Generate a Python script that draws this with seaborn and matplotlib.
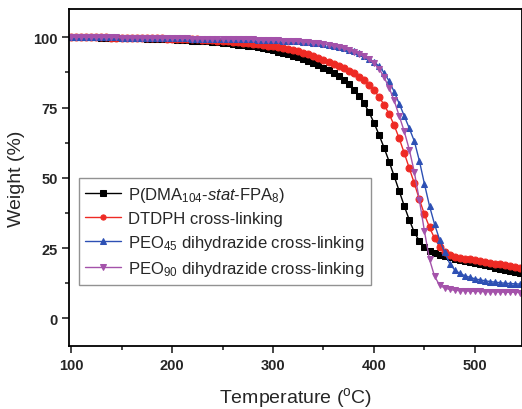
import numpy as np
import pandas as pd
import seaborn as sns
import matplotlib.pyplot as plt
from matplotlib.ticker import MultipleLocator

# temperature grid (°C), one reading every 5 degrees
temperature = [100, 105, 110, 115, 120, 125, 130, 135, 140, 145,
               150, 155, 160, 165, 170, 175, 180, 185, 190, 195,
               200, 205, 210, 215, 220, 225, 230, 235, 240, 245,
               250, 255, 260, 265, 270, 275, 280, 285, 290, 295,
               300, 305, 310, 315, 320, 325, 330, 335, 340, 345,
               350, 355, 360, 365, 370, 375, 380, 385, 390, 395,
               400, 405, 410, 415, 420, 425, 430, 435, 440, 445,
               450, 455, 460, 465, 470, 475, 480, 485, 490, 495,
               500, 505, 510, 515, 520, 525, 530, 535, 540, 545,
               550]

# weight (%)
w_copolymer = [100.0, 100.0, 99.9, 99.9, 99.9, 99.9, 99.8, 99.8, 99.8, 99.8,
               99.7, 99.7, 99.7, 99.6, 99.6, 99.5, 99.5, 99.4, 99.4, 99.3,
               99.2, 99.1, 99.0, 98.9, 98.8, 98.7, 98.6, 98.5, 98.3, 98.2,
               98.0, 97.8, 97.6, 97.4, 97.2, 97.0, 96.7, 96.4, 96.1, 95.7,
               95.3, 94.9, 94.4, 93.9, 93.4, 92.8, 92.2, 91.5, 90.8, 90.0,
               89.2, 88.3, 87.3, 86.1, 84.8, 83.2, 81.4, 79.2, 76.6, 73.4,
               69.6, 65.3, 60.7, 55.8, 50.6, 45.3, 40.0, 35.0, 30.6, 27.5,
               25.3, 24.0, 23.2, 22.6, 22.1, 21.7, 21.3, 20.9, 20.5, 20.1,
               19.7, 19.3, 18.9, 18.5, 18.1, 17.7, 17.3, 16.9, 16.5, 16.1,
               15.7]

w_dtdph = [100.0, 100.0, 100.0, 99.9, 99.9, 99.9, 99.9, 99.9, 99.8, 99.8,
           99.8, 99.8, 99.8, 99.7, 99.7, 99.7, 99.6, 99.6, 99.6, 99.5,
           99.5, 99.4, 99.4, 99.3, 99.3, 99.2, 99.1, 99.0, 98.9, 98.8,
           98.7, 98.6, 98.4, 98.3, 98.1, 97.9, 97.7, 97.5, 97.3, 97.0,
           96.8, 96.5, 96.2, 95.8, 95.4, 95.0, 94.5, 94.0, 93.4, 92.7,
           92.0, 91.3, 90.6, 89.8, 89.0, 88.1, 87.1, 86.0, 84.7, 83.1,
           81.2, 78.8, 76.0, 72.7, 68.7, 64.0, 58.8, 53.4, 48.0, 42.3,
           37.0, 32.4, 28.5, 25.5, 23.6, 22.6, 22.0, 21.6, 21.3, 21.0,
           20.7, 20.4, 20.1, 19.8, 19.5, 19.2, 18.9, 18.6, 18.3, 18.0,
           17.7]

w_peo45 = [100.0, 100.0, 100.0, 100.0, 99.9, 99.9, 99.9, 99.9, 99.9, 99.9,
           99.8, 99.8, 99.8, 99.8, 99.8, 99.7, 99.7, 99.7, 99.7, 99.7,
           99.6, 99.6, 99.6, 99.6, 99.5, 99.5, 99.5, 99.5, 99.4, 99.4,
           99.4, 99.4, 99.3, 99.3, 99.3, 99.2, 99.2, 99.1, 99.1, 99.0,
           99.0, 98.9, 98.8, 98.7, 98.6, 98.5, 98.4, 98.3, 98.1, 97.9,
           97.6, 97.3, 96.9, 96.5, 96.1, 95.6, 95.0, 94.3, 93.4, 92.4,
           91.2, 89.6, 87.4, 84.4, 80.6, 76.4, 72.0, 67.6, 63.0, 56.0,
           47.8, 40.0, 33.5, 28.0, 23.5, 19.5, 17.2, 16.0, 15.2, 14.6,
           14.1, 13.7, 13.4, 13.1, 12.9, 12.7, 12.5, 12.4, 12.3, 12.2,
           12.1]

w_peo90 = [100.0, 100.0, 100.0, 100.0, 99.9, 99.9, 99.9, 99.9, 99.9, 99.9,
           99.8, 99.8, 99.8, 99.8, 99.8, 99.7, 99.7, 99.7, 99.7, 99.7,
           99.6, 99.6, 99.6, 99.6, 99.5, 99.5, 99.5, 99.5, 99.4, 99.4,
           99.4, 99.4, 99.3, 99.3, 99.3, 99.2, 99.2, 99.1, 99.1, 99.0,
           99.0, 98.9, 98.8, 98.7, 98.6, 98.5, 98.4, 98.3, 98.1, 97.9,
           97.6, 97.3, 96.9, 96.5, 96.0, 95.5, 94.9, 94.1, 93.2, 92.1,
           90.8, 88.8, 85.8, 82.0, 77.5, 72.0, 66.5, 60.0, 52.0, 42.0,
           31.0, 21.0, 15.0, 11.8, 10.8, 10.3, 10.0, 9.9, 9.8, 9.7,
           9.6, 9.6, 9.5, 9.5, 9.4, 9.4, 9.3, 9.3, 9.3, 9.2,
           9.2]

labels = [r'P(DMA$_{104}$-$\mathit{stat}$-FPA$_{8}$)',
          'DTDPH cross-linking',
          r'PEO$_{45}$ dihydrazide cross-linking',
          r'PEO$_{90}$ dihydrazide cross-linking']

sns.set_style('ticks')
plt.rcParams['font.family'] = ['Liberation Sans', 'DejaVu Sans']
plt.rcParams['mathtext.fontset'] = 'custom'
plt.rcParams['mathtext.rm'] = 'Liberation Sans'
plt.rcParams['mathtext.it'] = 'Liberation Sans:italic'

fig = plt.figure(figsize=(5.22, 4.10), dpi=100)
ax = fig.add_axes([0.1328, 0.1544, 0.867, 0.821])

series = [(w_copolymer, 's', 'black'),
          (w_dtdph, 'o', '#ee2a24'),
          (w_peo45, '^', '#2d50b4'),
          (w_peo90, 'v', '#a452aa')]

for (vals, mk, col), lab in zip(series, labels):
    sns.lineplot(x=temperature, y=vals, ax=ax, color=col, marker=mk,
                 markersize=5, markeredgecolor=col, linewidth=1.0, label=lab)

ax.set_xlim(98.3, 546.5)
ax.set_ylim(-9.7, 110)
ax.xaxis.set_major_locator(MultipleLocator(100))
ax.xaxis.set_minor_locator(MultipleLocator(50))
ax.yaxis.set_major_locator(MultipleLocator(25))
ax.yaxis.set_minor_locator(MultipleLocator(12.5))
ax.tick_params(which='major', direction='out', length=5, width=1.2, labelsize=10.5)
ax.tick_params(which='minor', direction='out', length=3, width=1.2)
for t in ax.get_xticklabels() + ax.get_yticklabels():
    t.set_fontweight('bold')
for s in ax.spines.values():
    s.set_linewidth(1.3)
    s.set_color('black')

ax.set_xlabel(r'Temperature ($^{\rm o}$C)', fontsize=14, labelpad=10)
ax.set_ylabel('Weight (%)', fontsize=14, labelpad=6)

leg = ax.legend(loc='upper left', bbox_to_anchor=(0.021, 0.497), fontsize=12,
                frameon=True, fancybox=False, edgecolor='#777777',
                handlelength=2.15, handletextpad=0.4, borderpad=0.4,
                borderaxespad=0, labelspacing=0.42, numpoints=1,
                markerscale=0.75)
leg.get_frame().set_linewidth(1.0)

plt.savefig('out.png', dpi=100)
